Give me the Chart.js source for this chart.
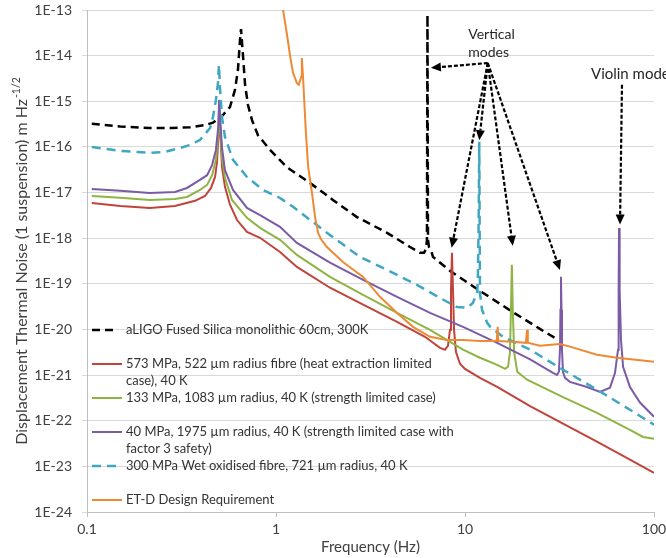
<!DOCTYPE html>
<html>
<head>
<meta charset="utf-8">
<title>Suspension thermal noise</title>
<script src="https://cdn.jsdelivr.net/npm/chart.js@4.4.1/dist/chart.umd.min.js"></script>
<style>
  html, body { margin: 0; padding: 0; background: #fff; }
  #wrap { width: 666px; height: 558px; }
</style>
</head>
<body>
<div id="wrap"><canvas id="noise" width="666" height="558"></canvas></div>
<script>
// axis ticks
const xTickLabels = ['0.1', '1', '10', '100'];
const yTickLabels = ['1E-24', '1E-23', '1E-22', '1E-21', '1E-20', '1E-19', '1E-18', '1E-17', '1E-16', '1E-15', '1E-14', '1E-13'];

// aLIGO fused silica, 300 K
const aligoFreq = [0.106, 0.150, 0.215, 0.280, 0.351, 0.421, 0.464, 0.524, 0.571, 0.607, 0.629, 0.645, 0.653, 0.669, 0.686, 0.711, 0.746, 0.803, 0.930, 1.14, 1.51, 2.00, 2.68, 3.87, 5.12, 5.78, 6.07, 6.22, 6.29, 6.33, 6.37, 6.45, 6.61, 6.77, 8.33, 12.0, 17.9, 24.9, 31.1];
const aligoNoise = [3.2e-16, 2.8e-16, 2.6e-16, 2.6e-16, 2.7e-16, 3.0e-16, 3.4e-16, 5.0e-16, 7.5e-16, 1.8e-15, 4.9e-15, 2.2e-14, 3.8e-14, 1.0e-14, 2.3e-15, 8.3e-16, 3.9e-16, 1.8e-16, 8.6e-17, 3.6e-17, 1.63e-17, 6.9e-18, 2.9e-18, 1.31e-18, 6.4e-19, 4.8e-19, 4.8e-19, 5.8e-19, 9.2e-19, 7.8e-14, 9.2e-19, 6.4e-19, 5.5e-19, 3.9e-19, 1.92e-19, 7.0e-20, 2.4e-20, 1.03e-20, 5.9e-21];

// 573 MPa, 522 um
const f573Freq = [0.106, 0.150, 0.215, 0.292, 0.373, 0.421, 0.453, 0.476, 0.487, 0.496, 0.500, 0.509, 0.518, 0.537, 0.571, 0.622, 0.702, 0.823, 1.05, 1.29, 1.93, 2.89, 4.37, 6.14, 7.37, 7.84, 8.13, 8.33, 8.43, 8.53, 8.64, 8.75, 8.96, 9.41, 10.0, 12.0, 14.8, 22.1, 33.0, 49.9, 74.6, 100];
const f573Noise = [5.9e-18, 5.1e-18, 4.6e-18, 5.1e-18, 6.6e-18, 8.4e-18, 1.26e-17, 2.2e-17, 4.5e-17, 1.66e-16, 7.1e-16, 1.66e-16, 3.6e-17, 1.33e-17, 5.4e-18, 2.5e-18, 1.37e-18, 1.02e-18, 5.0e-19, 2.35e-19, 8.2e-20, 3.5e-20, 1.47e-20, 6.9e-21, 3.95e-21, 3.6e-21, 4.4e-21, 9.8e-21, 7.4e-20, 4.8e-19, 7.4e-20, 9.8e-21, 3.2e-21, 1.77e-21, 1.37e-21, 8.7e-22, 5.5e-22, 2.1e-22, 8.6e-23, 3.5e-23, 1.40e-23, 7.2e-24];

// 133 MPa, 1083 um
const f133Freq = [0.106, 0.150, 0.215, 0.292, 0.338, 0.396, 0.432, 0.459, 0.481, 0.496, 0.500, 0.509, 0.518, 0.537, 0.585, 0.702, 0.823, 1.05, 1.29, 1.93, 2.89, 4.37, 6.53, 9.76, 12.0, 14.8, 16.3, 16.9, 17.3, 17.5, 17.7, 17.9, 18.2, 18.9, 21.3, 33.0, 49.9, 74.6, 87.5, 100];
const f133Noise = [8.4e-18, 7.7e-18, 6.9e-18, 7.2e-18, 8.0e-18, 1.14e-17, 1.47e-17, 2.4e-17, 5.2e-17, 2.1e-16, 8.7e-16, 2.1e-16, 5.7e-17, 2.1e-17, 6.9e-18, 2.8e-18, 1.68e-18, 9.2e-19, 4.3e-19, 1.42e-19, 5.7e-20, 2.3e-20, 9.8e-21, 3.6e-21, 2.4e-21, 1.68e-21, 1.37e-21, 1.52e-21, 3.2e-21, 2.7e-20, 2.6e-19, 2.7e-20, 3.2e-21, 1.18e-21, 7.9e-22, 3.3e-22, 1.49e-22, 6.3e-23, 4.4e-23, 4.0e-23];

// 40 MPa, 1975 um
const f40Freq = [0.106, 0.150, 0.215, 0.292, 0.338, 0.396, 0.432, 0.459, 0.481, 0.496, 0.500, 0.509, 0.518, 0.537, 0.592, 0.702, 0.823, 1.05, 1.29, 1.93, 2.89, 4.37, 6.53, 9.76, 14.8, 22.1, 29.2, 30.7, 31.4, 31.8, 32.0, 32.2, 32.4, 32.6, 33.0, 33.8, 35.9, 44.2, 51.8, 58.5, 62.2, 64.5, 65.0, 65.3, 65.8, 66.9, 68.6, 74.6, 84.3, 100];
const f40Noise = [1.20e-17, 1.1e-17, 9.8e-18, 1.03e-17, 1.26e-17, 1.9e-17, 2.4e-17, 4.0e-17, 8.6e-17, 3.0e-16, 1.07e-15, 3.0e-16, 9.5e-17, 3.1e-17, 1.14e-17, 4.6e-18, 3.2e-18, 1.77e-18, 7.9e-19, 2.9e-19, 1.22e-19, 5.2e-20, 2.3e-20, 1.14e-20, 5.1e-21, 2.2e-21, 1.12e-21, 1.01e-21, 1.18e-21, 3.6e-21, 2.7e-20, 1.42e-19, 2.7e-20, 3.6e-21, 1.18e-21, 8.7e-22, 7.1e-22, 5.5e-22, 4.3e-22, 5.3e-22, 1.12e-21, 3.6e-21, 7.4e-20, 1.68e-18, 7.4e-20, 5.9e-21, 1.52e-21, 5.5e-22, 2.5e-22, 1.22e-22];

// 300 MPa wet oxidised, 721 um
const wetFreq = [0.106, 0.150, 0.215, 0.260, 0.311, 0.350, 0.396, 0.448, 0.464, 0.481, 0.493, 0.499, 0.506, 0.518, 0.537, 0.592, 0.702, 0.854, 1.05, 1.23, 1.86, 2.78, 4.16, 5.57, 7.37, 9.07, 10.3, 11.0, 11.6, 11.7, 11.8, 11.9, 12.0, 12.3, 13.1, 13.6, 15.9, 22.1, 33.0, 49.9, 74.6, 100];
const wetNoise = [1.0e-16, 8.2e-17, 7.4e-17, 7.8e-17, 9.5e-17, 1.1e-16, 1.42e-16, 2.6e-16, 4.5e-16, 1.07e-15, 2.5e-15, 6.2e-15, 1.8e-15, 4.5e-16, 1.66e-16, 5.2e-17, 2.2e-17, 1.14e-17, 7.6e-18, 4.9e-18, 1.31e-18, 3.9e-19, 1.74e-19, 9.5e-20, 4.9e-20, 3.1e-20, 3.0e-20, 3.8e-20, 6.3e-20, 1.42e-19, 1.77e-18, 1.29e-16, 6.3e-20, 2.7e-20, 1.40e-20, 1.14e-20, 6.9e-21, 3.6e-21, 1.31e-21, 4.8e-22, 1.74e-22, 8.2e-23];

// ET-D design requirement
const etdFreq = [1.07, 1.09, 1.14, 1.19, 1.23, 1.29, 1.32, 1.36, 1.37, 1.39, 1.41, 1.44, 1.48, 1.55, 1.61, 1.67, 1.73, 1.86, 2.26, 2.89, 3.55, 4.37, 5.31, 6.53, 8.03, 9.76, 12.0, 14.7, 14.9, 15.0, 17.9, 21.0, 21.3, 21.5, 24.9, 31.8, 35.9, 49.9, 63.7, 100];
const etdNoise = [1.66e-13, 1.0e-13, 3.1e-14, 9.3e-15, 4.2e-15, 2.5e-15, 2.3e-15, 3.4e-15, 8.9e-15, 3.4e-15, 1.07e-15, 2.0e-16, 3.6e-17, 9.8e-18, 2.9e-18, 1.31e-18, 9.6e-19, 6.4e-19, 3.0e-19, 1.42e-19, 5.2e-20, 2.3e-20, 1.14e-20, 6.9e-21, 5.9e-21, 5.9e-21, 5.6e-21, 5.6e-21, 1.14e-20, 5.6e-21, 5.4e-21, 5.1e-21, 9.8e-21, 5.1e-21, 4.4e-21, 4.8e-21, 4.2e-21, 2.8e-21, 2.4e-21, 1.95e-21];

const legendLabels = [
  ['aLIGO Fused Silica monolithic 60cm, 300K'],
  ['573 MPa, 522 \u00b5m radius fibre (heat extraction limited', 'case), 40 K'],
  ['133 MPa, 1083 \u00b5m radius, 40 K (strength limited case)'],
  ['40 MPa, 1975 \u00b5m radius, 40 K (strength limited case with', 'factor 3 safety)'],
  ['300 MPa Wet oxidised fibre, 721 \u00b5m radius, 40 K'],
  ['ET-D Design Requirement']
];

// annotations, in data coordinates
const verticalFrom = { x: 13.2, y: 6.9e-15 };
const verticalTo = [
  { x: 6.6, y: 5.4e-15 },
  { x: 8.5, y: 6.2e-19 },
  { x: 11.9, y: 1.4e-16 },
  { x: 17.9, y: 6.8e-19 },
  { x: 31.8, y: 2.0e-19 }
];
const violinFrom = { x: 67.7, y: 2.3e-15 };
const violinTo = { x: 66.1, y: 2.0e-18 };
const notes = [
  { text: 'Vertical', x: 10.4, y: 2.3e-14, size: 14 },
  { text: 'modes', x: 10.4, y: 9.3e-15, size: 14 },
  { text: 'Violin modes', x: 46.4, y: 3.1e-15, size: 15 }
];

const FONT = 'Lato, "Open Sans", sans-serif';
const TEXT = '#404040';

const pts = (fs, vs) => fs.map((f, i) => ({ x: f, y: vs[i] }));

const series = [
  { data: pts(aligoFreq, aligoNoise), color: '#000000', width: 2.5, dash: [8, 5] },
  { data: pts(f573Freq, f573Noise), color: '#C0443C', width: 2, dash: [] },
  { data: pts(f133Freq, f133Noise), color: '#8FB443', width: 2, dash: [] },
  { data: pts(f40Freq, f40Noise), color: '#7B5BA6', width: 2, dash: [] },
  { data: pts(wetFreq, wetNoise), color: '#3FA7C2', width: 2.5, dash: [9, 6] },
  { data: pts(etdFreq, etdNoise), color: '#EE8A33', width: 2, dash: [] }
];

function arrow(ctx, x0, y0, x1, y1) {
  const a = Math.atan2(y1 - y0, x1 - x0);
  const head = 10, half = 4.5;
  const bx = x1 - head * Math.cos(a), by = y1 - head * Math.sin(a);
  ctx.setLineDash([4, 2]);
  ctx.lineWidth = 2.2;
  ctx.beginPath();
  ctx.moveTo(x0, y0);
  ctx.lineTo(bx, by);
  ctx.stroke();
  ctx.setLineDash([]);
  ctx.beginPath();
  ctx.moveTo(x1, y1);
  ctx.lineTo(bx + half * Math.sin(a), by - half * Math.cos(a));
  ctx.lineTo(bx - half * Math.sin(a), by + half * Math.cos(a));
  ctx.closePath();
  ctx.fill();
}

const overlay = {
  id: 'overlay',
  afterDraw(chart) {
    const { ctx, chartArea, scales: { x, y } } = chart;
    ctx.save();

    // y axis title with superscript
    ctx.save();
    ctx.translate(22, (chartArea.top + chartArea.bottom) / 2);
    ctx.rotate(-Math.PI / 2);
    const main = 'Displacement Thermal Noise (1 suspension) m Hz';
    const sup = '-1/2';
    ctx.font = '16px ' + FONT;
    const w1 = ctx.measureText(main).width;
    ctx.font = '10.5px ' + FONT;
    const w2 = ctx.measureText(sup).width;
    const sx = -(w1 + w2 + 1) / 2;
    ctx.fillStyle = TEXT;
    ctx.textBaseline = 'middle';
    ctx.textAlign = 'left';
    ctx.font = '16px ' + FONT;
    ctx.fillText(main, sx, 0);
    ctx.font = '10.5px ' + FONT;
    ctx.fillText(sup, sx + w1 + 1, -5);
    ctx.restore();

    // legend inside the plot
    const left = chartArea.left;
    let rowY = chartArea.bottom - 182;
    ctx.font = '13px ' + FONT;
    ctx.textBaseline = 'middle';
    ctx.textAlign = 'left';
    series.forEach((s, i) => {
      ctx.strokeStyle = s.color;
      ctx.lineWidth = s.width;
      ctx.setLineDash(s.dash);
      ctx.beginPath();
      ctx.moveTo(left + 5, rowY);
      ctx.lineTo(left + (s.dash.length ? 31 : 35), rowY);
      ctx.stroke();
      ctx.setLineDash([]);
      ctx.fillStyle = '#333';
      legendLabels[i].forEach((line, j) => ctx.fillText(line, left + 39, rowY + j * 17));
      rowY += 34;
    });

    // arrows and notes
    ctx.strokeStyle = '#000';
    ctx.fillStyle = '#000';
    const fx = x.getPixelForValue(verticalFrom.x), fy = y.getPixelForValue(verticalFrom.y);
    verticalTo.forEach(t => arrow(ctx, fx, fy, x.getPixelForValue(t.x), y.getPixelForValue(t.y)));
    arrow(ctx, x.getPixelForValue(violinFrom.x), y.getPixelForValue(violinFrom.y),
      x.getPixelForValue(violinTo.x), y.getPixelForValue(violinTo.y));
    ctx.fillStyle = '#262626';
    ctx.textBaseline = 'alphabetic';
    notes.forEach(n => {
      ctx.font = n.size + 'px ' + FONT;
      ctx.fillText(n.text, x.getPixelForValue(n.x), y.getPixelForValue(n.y));
    });
    ctx.restore();
  }
};

new Chart(document.getElementById('noise'), {
  type: 'line',
  data: {
    datasets: series.map((s, i) => ({
      label: legendLabels[i].join(' '),
      data: s.data,
      borderColor: s.color,
      borderWidth: s.width,
      borderDash: s.dash,
      pointRadius: 0,
      fill: false,
      tension: 0,
      order: -i
    }))
  },
  options: {
    responsive: false,
    animation: false,
    devicePixelRatio: 1,
    layout: { padding: { top: 10, right: 12, bottom: 0, left: 0 } },
    plugins: { legend: { display: false }, tooltip: { enabled: false } },
    scales: {
      x: {
        type: 'logarithmic',
        min: 0.1,
        max: 100,
        afterBuildTicks: s => { s.ticks = xTickLabels.map(t => ({ value: Number(t) })); },
        afterFit: s => { s.height = 46; s.paddingLeft = 0; s.paddingRight = 0; },
        ticks: {
          callback: v => xTickLabels.find(t => Number(t) === v),
          font: { family: FONT, size: 14 },
          color: TEXT,
          padding: 4,
          maxRotation: 0,
          autoSkip: false
        },
        grid: { drawOnChartArea: false, color: '#bfbfbf', tickLength: 5 },
        border: { color: '#bfbfbf' },
        title: {
          display: true,
          text: 'Frequency (Hz)',
          font: { family: FONT, size: 15 },
          color: TEXT,
          padding: { top: 0, bottom: 2 }
        }
      },
      y: {
        type: 'logarithmic',
        min: 1e-24,
        max: 1e-13,
        afterBuildTicks: s => { s.ticks = yTickLabels.map(t => ({ value: Number(t) })); },
        afterFit: s => { s.width = 87; s.paddingTop = 0; s.paddingBottom = 0; },
        ticks: {
          callback: v => yTickLabels.find(t => Number(t) === v),
          font: { family: FONT, size: 14 },
          color: TEXT,
          padding: 10,
          autoSkip: false
        },
        grid: { color: '#d9d9d9', tickLength: 5 },
        border: { color: '#bfbfbf' }
      }
    }
  },
  plugins: [overlay]
});
</script>
</body>
</html>
